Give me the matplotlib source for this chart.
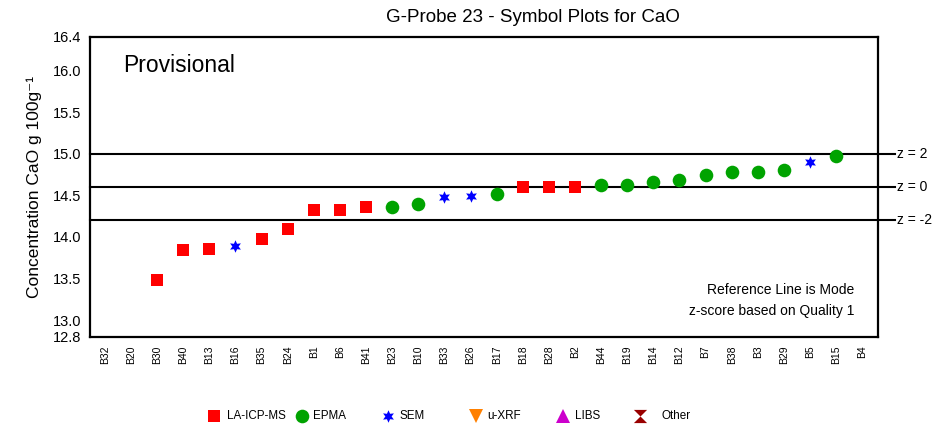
import matplotlib
matplotlib.use("Agg")
import matplotlib.pyplot as plt
import numpy as np

plt.rcParams['font.family'] = ['Liberation Sans', 'DejaVu Sans']

samples = ['B32', 'B20', 'B30', 'B40', 'B13', 'B16', 'B35', 'B24', 'B1', 'B6',
           'B41', 'B23', 'B10', 'B33', 'B26', 'B17', 'B18', 'B28', 'B2', 'B44',
           'B19', 'B14', 'B12', 'B7', 'B38', 'B3', 'B29', 'B5', 'B15', 'B4']
values = [None, None, 13.48, 13.84, 13.86, 13.89, 13.98, 14.10, 14.32, 14.32,
          14.36, 14.36, 14.40, 14.48, 14.49, 14.52, 14.60, 14.60, 14.60, 14.62,
          14.62, 14.66, 14.69, 14.74, 14.78, 14.78, 14.81, 14.90, 14.97, None]
methods = [None, None, 'LA-ICP-MS', 'LA-ICP-MS', 'LA-ICP-MS', 'SEM', 'LA-ICP-MS',
           'LA-ICP-MS', 'LA-ICP-MS', 'LA-ICP-MS', 'LA-ICP-MS', 'EPMA', 'EPMA',
           'SEM', 'SEM', 'EPMA', 'LA-ICP-MS', 'LA-ICP-MS', 'LA-ICP-MS', 'EPMA',
           'EPMA', 'EPMA', 'EPMA', 'EPMA', 'EPMA', 'EPMA', 'EPMA', 'SEM', 'EPMA', None]

z_values = [15.00, 14.60, 14.20]
z_labels = ['z = 2', 'z = 0', 'z = -2']

y_ticks = [12.8, 13.0, 13.5, 14.0, 14.5, 15.0, 15.5, 16.0, 16.4]
y_ticklabels = ['12.8', '13.0', '13.5', '14.0', '14.5', '15.0', '15.5', '16.0', '16.4']

legend_methods = ['LA-ICP-MS', 'EPMA', 'SEM', 'u-XRF', 'LIBS', 'Other']

hourglass = [(-1, 1), (1, 1), (0, 0), (1, -1), (-1, -1), (0, 0), (-1, 1)]
styles = {
    'LA-ICP-MS': dict(marker='s', color='#FF0000', ms=8.6),
    'EPMA': dict(marker='o', color='#00A300', ms=9.8),
    'SEM': dict(marker=(6, 1, 0), color='#0000FF', ms=9.0),
    'u-XRF': dict(marker='v', color='#FF8000', ms=10.5),
    'LIBS': dict(marker='^', color='#CC00CC', ms=10.5),
    'Other': dict(marker=hourglass, color='#990000', ms=9.5),
}

fig = plt.figure(figsize=(9.52, 4.30), dpi=100)
ax = fig.add_axes([90 / 952, 1 - 337 / 430, 788 / 952, 300 / 430])

x = np.arange(len(samples))
for m in ['LA-ICP-MS', 'EPMA', 'SEM']:
    xs = [i for i in x if methods[i] == m]
    ys = [values[i] for i in xs]
    st = styles[m]
    ax.plot(xs, ys, linestyle='none', marker=st['marker'], color=st['color'],
            markersize=st['ms'], markeredgewidth=0, zorder=3)

for zv, zl in zip(z_values, z_labels):
    ax.axhline(zv, xmin=0, xmax=1.0216, color='black', lw=1.5, clip_on=False, zorder=2)
    ax.text(1.024, zv, zl, transform=ax.get_yaxis_transform(), va='center', ha='left',
            fontsize=10)

ax.set_xlim(-0.57, 29.6)
ax.set_ylim(12.8, 16.4)
ax.set_yticks(y_ticks)
ax.set_yticklabels(y_ticklabels, fontsize=10.5)
ax.set_xticks(x)
ax.set_xticklabels(samples, rotation=90, fontsize=7.5)
ax.tick_params(axis='both', length=0)
ax.tick_params(axis='x', pad=6)
ax.tick_params(axis='y', pad=6)
for s in ax.spines.values():
    s.set_linewidth(1.6)

ax.set_ylabel('Concentration CaO g 100g\u207b\u00b9', fontsize=12.5, labelpad=8)
fig.text(533 / 952, 1 - 18 / 430, 'G-Probe 23 - Symbol Plots for CaO', ha='center',
         va='center', fontsize=13.5)
ax.text(123 / 952, 1 - 66 / 430, 'Provisional', transform=fig.transFigure,
        ha='left', va='center', fontsize=16.5)
ax.text(854 / 952, 1 - 290 / 430, 'Reference Line is Mode', transform=fig.transFigure,
        ha='right', va='center', fontsize=10)
ax.text(854 / 952, 1 - 311 / 430, 'z-score based on Quality 1', transform=fig.transFigure,
        ha='right', va='center', fontsize=10)

# legend
lax = fig.add_axes([0, 0, 1, 0.1])
lax.set_xlim(0, 952)
lax.set_ylim(43, 0)
lax.axis('off')
marker_x = [214, 302, 388, 476, 563, 640]
text_x = [227, 313, 399, 487, 575, 662]
for m, mx, tx in zip(legend_methods, marker_x, text_x):
    st = styles[m]
    lax.plot([mx], [29], linestyle='none', marker=st['marker'], color=st['color'],
             markersize=st['ms'], markeredgewidth=0)
    lax.text(tx, 29, m, ha='left', va='center', fontsize=8.4)

fig.savefig('out.png', dpi=100)
